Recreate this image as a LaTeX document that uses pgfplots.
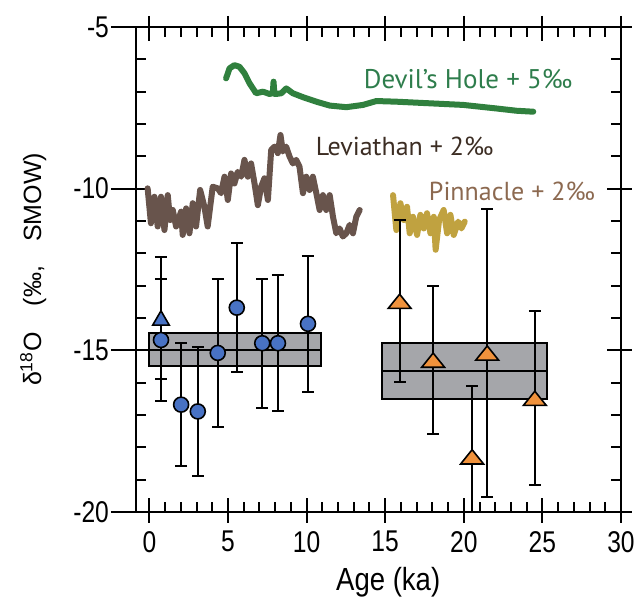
\documentclass[border=0pt]{standalone}
\usepackage{fontspec}
\setmainfont{Liberation Sans}[FakeStretch=0.82]
\newfontfamily\xlabfont{Liberation Sans}[FakeStretch=0.86]
\newfontfamily\ylabfont{Liberation Sans}
\newfontfamily\annfont{PT Sans}
\usepackage{pgfplots}
\pgfplotsset{compat=1.18}
\usetikzlibrary{calc}

\definecolor{holoblue}{RGB}{72,114,196}
\definecolor{glorange}{RGB}{240,146,60}
\definecolor{boxgray}{RGB}{165,166,170}
\definecolor{devline}{RGB}{48,128,62}
\definecolor{devtext}{RGB}{46,125,76}
\definecolor{levline}{RGB}{104,84,76}
\definecolor{levtext}{RGB}{60,45,35}
\definecolor{pinline}{RGB}{192,162,64}
\definecolor{pintext}{RGB}{140,105,80}

\begin{document}
\begin{tikzpicture}
\pgfplotsset{
  frame/.style={scale only axis, width=242.5pt, height=242.5pt,
    xmin=-0.85, xmax=30, ymin=-20, ymax=-5},
  ebar/.style={only marks,
    error bars/y dir=both, error bars/y explicit,
    error bars/error bar style={line width=1pt, black},
    error bars/error mark options={rotate=90, mark size=3pt, line width=1pt, black}},
}
\begin{axis}[frame, name=ax,
  axis line style={line width=1pt},
  tick align=inside, tick style={line width=1pt, black},
  major tick length=7pt, minor tick length=5pt,
  xtick={0,5,...,30}, xticklabels={0,5,10,15,20,25,30}, minor x tick num=4,
  ytick={-20,-15,-10,-5}, yticklabels={-20,-15,-10,-5}, minor y tick num=4,
  ticklabel style={font=\fontsize{15}{17}\selectfont},
  xticklabel style={yshift=-6pt},
  yticklabel style={xshift=-10pt},
  xlabel={Age (ka)},
  ylabel={δ\textsuperscript{18}O\hspace{13pt}(‰,\hspace{12pt}SMOW)},
  xlabel style={font=\xlabfont\fontsize{16}{19}\selectfont,
    at={(axis description cs:0.52,-0.144)}, anchor=center},
  ylabel style={font=\ylabfont\fontsize{12.5}{15}\selectfont,
    at={(axis description cs:-0.212,0.5)}, anchor=center},
]
% Devil's Hole + 5 permil
\addplot[devline, line width=3pt, line join=round, line cap=round] coordinates {
(4.88,-6.59) (5.10,-6.28) (5.41,-6.18) (5.73,-6.23) (6.05,-6.43) (6.37,-6.74)
(6.79,-7.05) (7.22,-7.00) (7.64,-7.07) (7.85,-7.05) (7.90,-6.69) (7.95,-7.07)
(8.07,-7.07) (8.39,-7.05) (8.71,-6.90) (9.13,-7.05) (9.77,-7.17) (10.62,-7.31)
(11.47,-7.43) (12.53,-7.48) (13.59,-7.41) (14.44,-7.29) (15.71,-7.31)
(17.83,-7.36) (19.96,-7.41) (22.08,-7.52) (23.35,-7.59) (24.42,-7.62)
};
% Leviathan + 2 permil
\addplot[levline, line width=3pt, line join=round, line cap=round] coordinates {
(-0.11,-9.99) (0.10,-11.07) (0.32,-10.25) (0.53,-11.17) (0.74,-10.25)
(0.96,-11.28) (1.17,-10.20) (1.32,-10.97) (1.49,-10.66) (1.70,-11.17)
(2.02,-10.71) (2.12,-11.43) (2.34,-10.61) (2.55,-11.38) (2.76,-10.45)
(2.97,-11.17) (3.23,-10.04) (3.50,-10.56) (3.71,-11.17) (4.03,-9.94)
(4.35,-9.99) (4.56,-10.14) (4.78,-9.63) (4.99,-10.35) (5.20,-9.53)
(5.41,-9.84) (5.62,-9.48) (5.84,-9.63) (6.05,-9.11) (6.26,-9.63)
(6.47,-9.22) (6.69,-9.84) (6.90,-10.51) (7.11,-9.94) (7.32,-9.68)
(7.54,-10.35) (7.75,-8.80) (7.96,-8.70) (8.17,-8.90) (8.34,-8.34)
(8.49,-8.85) (8.70,-8.70) (8.92,-9.01) (9.13,-9.22) (9.34,-9.11)
(9.55,-9.32) (9.77,-10.14) (9.98,-9.63) (10.19,-10.04) (10.40,-9.63)
(10.62,-10.14) (10.83,-10.66) (11.04,-10.20) (11.25,-10.66) (11.47,-10.20)
(11.68,-10.87) (11.89,-11.38) (12.10,-11.23) (12.31,-11.48) (12.53,-11.38)
(12.74,-11.12) (12.95,-11.38) (13.16,-10.87) (13.38,-10.66)
};
% Pinnacle + 2 permil
\addplot[pinline, line width=3pt, line join=round, line cap=round] coordinates {
(15.50,-10.20) (15.71,-11.28) (15.97,-10.45) (16.18,-10.97) (16.39,-10.56)
(16.56,-11.38) (16.77,-10.87) (17.03,-11.43) (17.24,-10.81) (17.45,-11.23)
(17.66,-10.76) (17.88,-11.38) (18.09,-10.87) (18.21,-11.89) (18.43,-10.97)
(18.72,-10.66) (18.94,-11.38) (19.15,-10.81) (19.36,-11.43) (19.64,-11.02)
(19.85,-11.23) (20.06,-11.02)
};
% mean boxes
\addplot[fill=boxgray, draw=black, line width=1pt] coordinates {
(0,-14.45) (10.92,-14.45) (10.92,-15.5) (0,-15.5)} -- cycle;
\addplot[black, line width=1pt] coordinates {(0,-14.98) (10.92,-14.98)};
\addplot[fill=boxgray, draw=black, line width=1pt] coordinates {
(14.8,-14.76) (25.3,-14.76) (25.3,-16.52) (14.8,-16.52)} -- cycle;
\addplot[black, line width=1pt] coordinates {(14.8,-15.64) (25.3,-15.64)};
% Holocene samples
\addplot[ebar, mark=triangle*, mark size=4.8pt,
  mark options={yshift=-1.2pt, fill=holoblue, draw=black, line width=0.8pt}]
  coordinates {(0.74,-14.0) +- (0,1.9)};
\addplot[ebar, mark=*, mark size=3.75pt,
  mark options={fill=holoblue, draw=black, line width=0.8pt}]
  coordinates {
  (0.74,-14.68) +- (0,1.9)
  (2.02,-16.68) +- (0,1.9)
  (3.08,-16.89) +- (0,2.0)
  (4.35,-15.08) +- (0,2.3)
  (5.56,-13.68) +- (0,2.0)
  (7.18,-14.78) +- (0,2.0)
  (8.18,-14.78) +- (0,2.1)
  (10.09,-14.18) +- (0,2.1)
  };
% glacial samples
\addplot[ebar, mark=triangle*, mark size=6.6pt,
  mark options={yshift=-1.25pt, yscale=0.72, fill=glorange, draw=black, line width=0.8pt}]
  coordinates {
  (15.92,-13.48) +- (0,2.5)
  (18.05,-15.30) +- (0,2.3)
  (20.53,-18.29) +- (0,2.2)
  (21.49,-15.08) +- (0,4.45)
  (24.52,-16.48) +- (0,2.7)
  };
\node[anchor=west, inner sep=0, text=devtext, font=\annfont\fontsize{13.5}{15}\selectfont]
  at (axis cs:13.62,-6.62) {Devil’s Hole + 5‰};
\node[anchor=west, inner sep=0, text=levtext, font=\annfont\fontsize{13}{15}\selectfont]
  at (axis cs:10.56,-8.68) {Leviathan + 2‰};
\node[anchor=west, inner sep=0, text=pintext, font=\annfont\fontsize{13}{15}\selectfont]
  at (axis cs:17.76,-10.09) {Pinnacle + 2‰};
\end{axis}
% outward halves of the major ticks
\begin{axis}[frame, axis line style={draw=none},
  tick align=outside, major tick length=5.5pt, tick style={line width=1pt, black},
  xtick={0,5,...,30}, xticklabels={}, ytick={-20,-15,-10,-5}, yticklabels={},
  ytick pos=right, minor tick num=0]
\end{axis}
\begin{axis}[frame, axis line style={draw=none},
  tick align=outside, major tick length=12.5pt, tick style={line width=1pt, black},
  xtick=\empty, ytick={-20,-15,-10,-5}, yticklabels={},
  ytick pos=left, minor tick num=0]
\end{axis}
\pgfresetboundingbox
\path[use as bounding box] ($(ax.south west)+(-68pt,-46.25pt)$) rectangle ($(ax.north east)+(8.5pt,13.5pt)$);
\end{tikzpicture}
\end{document}
